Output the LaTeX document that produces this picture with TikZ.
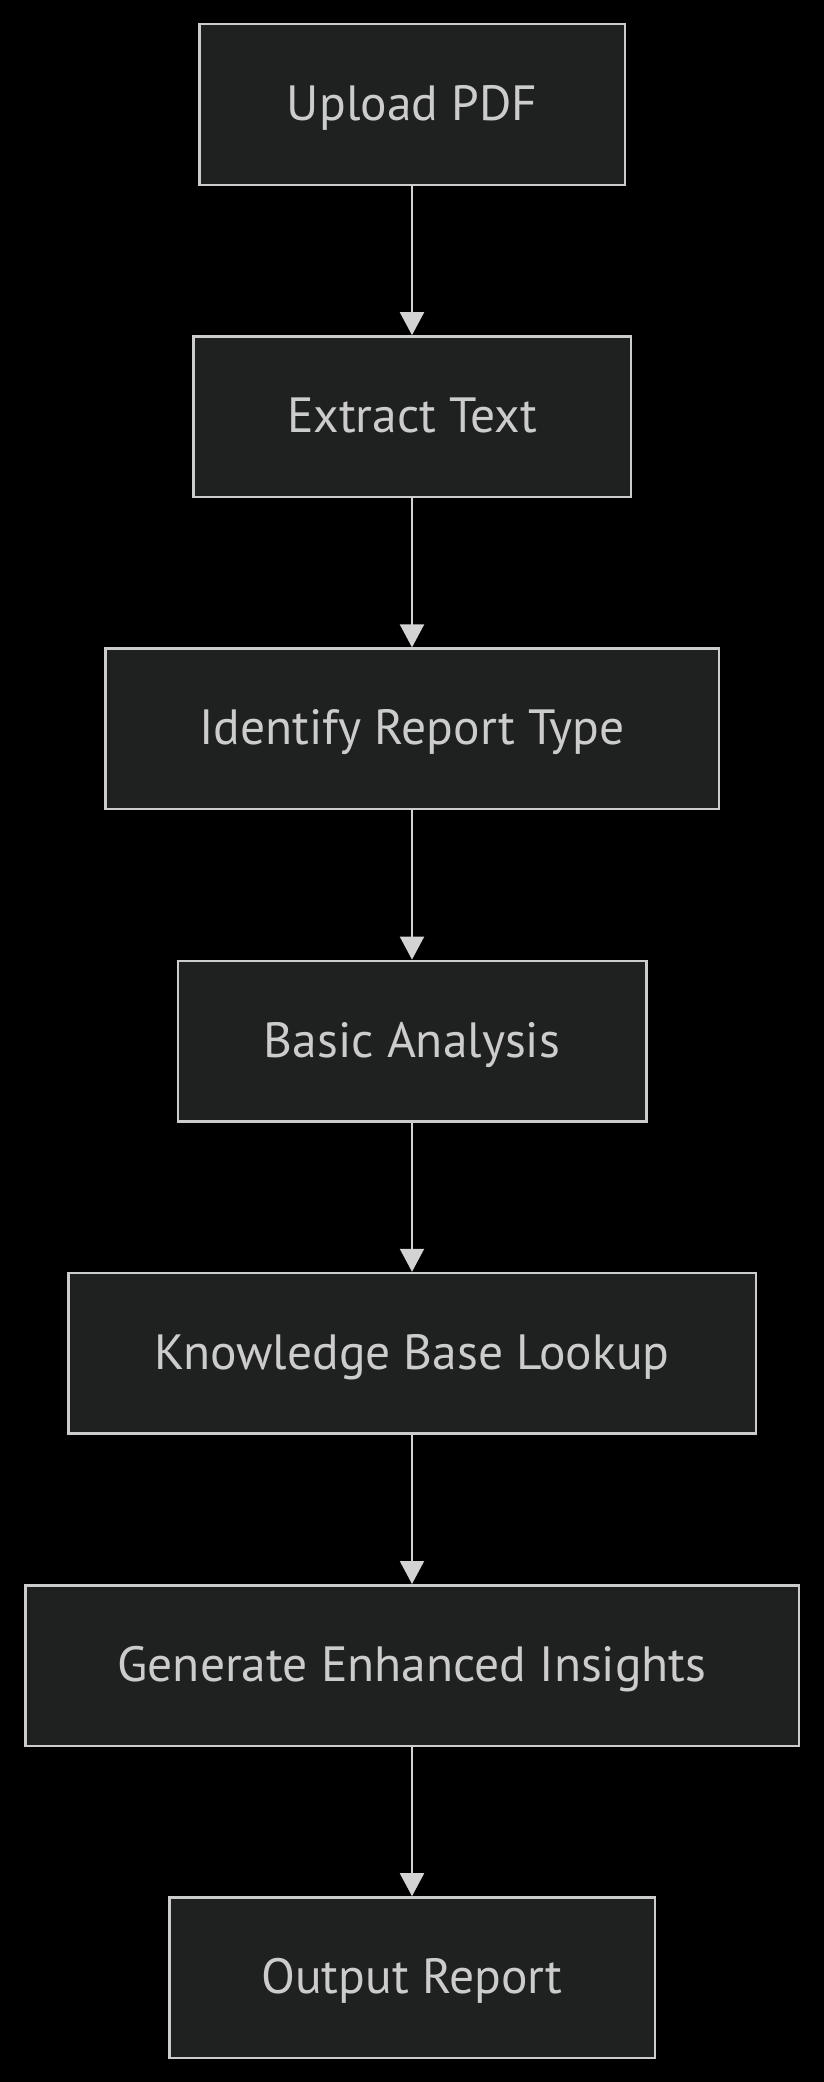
\documentclass[tikz,border=0pt]{standalone}
\usepackage{fontspec}
\setmainfont{PT Sans}
\usetikzlibrary{arrows.meta}
\definecolor{nodefill}{HTML}{1F2020}
\definecolor{nodeline}{HTML}{CCCCCC}
\definecolor{nodetext}{HTML}{CCCCCC}
\definecolor{edgecol}{HTML}{D3D3D3}
\newcommand{\lbl}[1]{\raisebox{-16pt}{#1}}
\tikzset{
  stepbox/.style={draw=nodeline, fill=nodefill, line width=2.5pt, inner sep=0pt,
    minimum height=160.5pt, text=nodetext, font=\fontsize{49.5}{58}\selectfont,
    text height=0pt, text depth=0pt},
  flow/.style={draw=edgecol, line width=2pt, -{Triangle[width=24pt,length=23pt]}}
}
\begin{document}
\begin{tikzpicture}[x=1pt,y=-1pt]
\useasboundingbox[fill=black] (0,0) rectangle (824,2082);
\node[stepbox, minimum width=425.5pt] (a) at (412,104.5) {\lbl{Upload PDF}};
\node[stepbox, minimum width=437.5pt] (b) at (412,416.7) {\lbl{Extract Text}};
\node[stepbox, minimum width=613.5pt] (c) at (412,728.9) {\lbl{Identify Report Type}};
\node[stepbox, minimum width=468.5pt] (d) at (412,1041.1) {\lbl{Basic Analysis}};
\node[stepbox, minimum width=687.5pt] (e) at (412,1353.3) {\lbl{Knowledge Base Lookup}};
\node[stepbox, minimum width=773.5pt] (f) at (412,1665.5) {\lbl{Generate Enhanced Insights}};
\node[stepbox, minimum width=485.5pt] (g) at (412,1977.7) {\lbl{Output Report}};
\draw[flow] (a.south) -- (b.north);
\draw[flow] (b.south) -- (c.north);
\draw[flow] (c.south) -- (d.north);
\draw[flow] (d.south) -- (e.north);
\draw[flow] (e.south) -- (f.north);
\draw[flow] (f.south) -- (g.north);
\end{tikzpicture}
\end{document}
